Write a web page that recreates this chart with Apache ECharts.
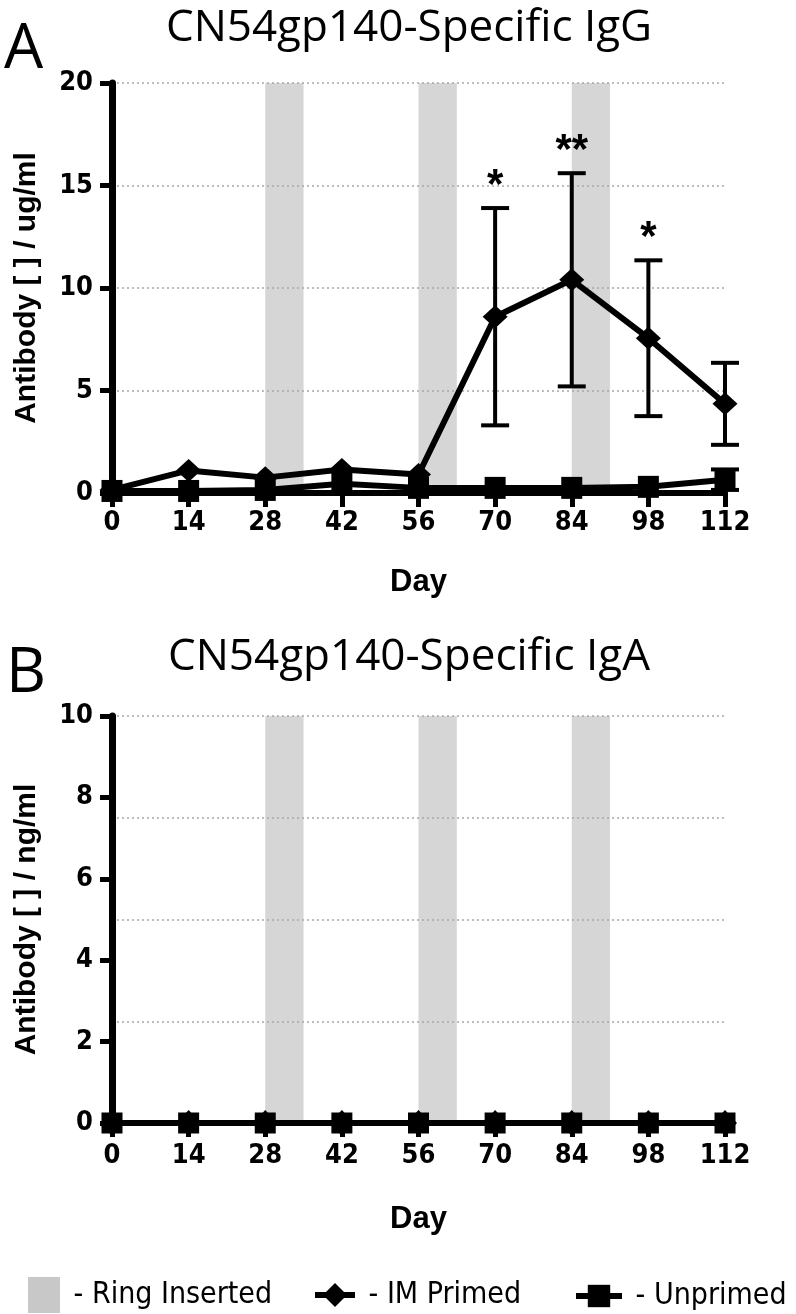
<!DOCTYPE html>
<html><head><meta charset="utf-8">
<script src="https://cdn.jsdelivr.net/npm/echarts@6/dist/echarts.min.js"></script>
<style>html,body{margin:0;padding:0;background:#fff}#c{width:796px;height:1314px}</style>
</head><body><div id="c"></div>
<script>
// ---- data ----
const days = [0, 14, 28, 42, 56, 70, 84, 98, 112];
const iggPrimed = [0.15, 1.1, 0.75, 1.15, 0.9, 8.6, 10.4, 7.55, 4.35];
const iggPrimedErr = [0, 0, 0, 0, 0, 5.3, 5.2, 3.8, 2.0];
const iggPrimedSig = ['', '', '', '', '', '*', '**', '*', ''];
const iggUnprimed = [0.1, 0.1, 0.15, 0.45, 0.25, 0.25, 0.25, 0.3, 0.65];
const iggUnprimedErr = [0, 0, 0, 0, 0, 0, 0, 0, 0.5];
const igaPrimed = [0, 0, 0, 0, 0, 0, 0, 0, 0];
const igaUnprimed = [0, 0, 0, 0, 0, 0, 0, 0, 0];
const ringStart = [28, 56, 84];
const ringEnd = [35, 63, 91];
const titles = ['CN54gp140-Specific IgG', 'CN54gp140-Specific IgA'];
const panelLetters = ['A', 'B'];
const yNames = ['Antibody [ ] / ug/ml', 'Antibody [ ] / ng/ml'];
const yMax = [20, 10];
const yTickStep = [5, 2];
const yGridStep = [5, 2.5];
const legendNames = ['Ring Inserted', 'IM Primed', 'Unprimed'];

// ---- styling helpers ----
const BOLD = '"Liberation Sans", Arial, Helvetica, sans-serif';
const TICKF = '"DejaVu Sans Condensed", "Liberation Sans", sans-serif';
const NARROW = '"DejaVu Sans Condensed", "Liberation Sans", sans-serif';
const TITLEF = '"Open Sans", "Noto Sans", sans-serif';

function bandRender(top) {
  return function (params, api) {
    const p0 = api.coord([api.value(0), top]);
    const p1 = api.coord([api.value(1), 0]);
    return { type: 'rect', shape: { x: p0[0], y: p0[1], width: p1[0] - p0[0], height: p1[1] - p0[1] },
      style: { fill: '#d6d6d6' } };
  };
}
function errRender(sigs) {
  return function (params, api) {
    const i = params.dataIndex;
    const x = api.value(0), v = api.value(1), e = api.value(2);
    if (!e) return null;
    const t = api.coord([x, v + e]);
    const b = api.coord([x, Math.max(0, v - e)]);
    const hw = 14;
    const st = { stroke: '#000', lineWidth: 4 };
    const ch = [
      { type: 'line', shape: { x1: t[0], y1: t[1], x2: b[0], y2: b[1] }, style: st },
      { type: 'line', shape: { x1: t[0] - hw, y1: t[1], x2: t[0] + hw, y2: t[1] }, style: st },
      { type: 'line', shape: { x1: b[0] - hw, y1: b[1], x2: b[0] + hw, y2: b[1] }, style: st }
    ];
    if (sigs && sigs[i]) {
      ch.push({ type: 'text', style: { text: sigs[i], x: t[0], y: t[1] - 22, align: 'center', verticalAlign: 'middle',
        font: 'bold 42px ' + BOLD, fill: '#000' } });
    }
    return { type: 'group', children: ch };
  };
}

const gridsPos = [
  { left: 112, top: 83, width: 613, height: 410 },
  { left: 112, top: 716, width: 613, height: 407 }
];
const xNameGap = [74, 81];
const xLabelMargin = [16, 19];

const xAxes = [], yAxes = [];
[0, 1].forEach(function (g) {
  xAxes.push({
    type: 'value', gridIndex: g, min: 0, max: 112, interval: 14, z: 1.6,
    axisLine: { onZero: false, lineStyle: { color: '#000', width: 6 } },
    axisTick: { length: 14, lineStyle: { color: '#000', width: 5 } },
    axisLabel: { fontSize: 27, fontWeight: 'bold', color: '#000', fontFamily: TICKF, margin: xLabelMargin[g] },
    splitLine: { show: false },
    name: 'Day', nameLocation: 'middle', nameGap: xNameGap[g],
    nameTextStyle: { fontSize: 31, fontWeight: 'bold', color: '#000', fontFamily: BOLD }
  });
  yAxes.push({
    type: 'value', gridIndex: g, min: 0, max: yMax[g], interval: yTickStep[g], z: 1.6,
    axisLine: { show: true, onZero: false, lineStyle: { color: '#000', width: 7 } },
    axisTick: { show: true, length: 12, lineStyle: { color: '#000', width: 5 } },
    axisLabel: { fontSize: 27, fontWeight: 'bold', color: '#000', fontFamily: TICKF, margin: 19 },
    splitLine: { show: false },
    name: yNames[g], nameLocation: 'middle', nameRotate: 90, nameGap: 70,
    nameTextStyle: { fontSize: 30, fontWeight: 'bold', color: '#000', fontFamily: BOLD }
  });
});
// gridline-only axes
[0, 1].forEach(function (g) {
  yAxes.push({
    type: 'value', gridIndex: g, min: 0, max: yMax[g], interval: yGridStep[g], position: 'left', z: 1.5,
    axisLine: { show: false }, axisTick: { show: false }, axisLabel: { show: false },
    splitLine: { show: true, lineStyle: { color: '#a8a8a8', width: 1.5, type: [2, 3] } }
  });
});

const bandData = ringStart.map(function (s, i) { return [s, ringEnd[i]]; });
function mk(arr, err) { return days.map(function (d, i) { return [d, arr[i], err ? err[i] : 0]; }); }

const series = [];
[0, 1].forEach(function (g) {
  series.push({ type: 'custom', name: legendNames[0], xAxisIndex: g, yAxisIndex: g, z: 1,
    itemStyle: { color: '#c8c8c8' }, renderItem: bandRender(yMax[g]), data: bandData, encode: { x: [0, 1] }, silent: true });
});
const lineBase = function (name, g, data, sym, size, z) {
  return { type: 'line', name: name, xAxisIndex: g, yAxisIndex: g, z: z, data: data,
    symbol: sym, symbolSize: size, showSymbol: true, showAllSymbol: true,
    lineStyle: { color: '#000', width: 6 }, itemStyle: { color: '#000' }, emphasis: { disabled: true } };
};
series.push(lineBase(legendNames[1], 0, days.map(function (d, i) { return [d, iggPrimed[i]]; }), 'diamond', [25, 23], 3));
series.push(lineBase(legendNames[2], 0, days.map(function (d, i) { return [d, iggUnprimed[i]]; }), 'rect', [21, 22], 4));
series.push(lineBase(legendNames[1], 1, days.map(function (d, i) { return [d, igaPrimed[i]]; }), 'diamond', [24, 26], 3));
series.push(lineBase(legendNames[2], 1, days.map(function (d, i) { return [d, igaUnprimed[i]]; }), 'rect', [21, 21], 4));
series.push({ type: 'custom', name: 'IM err', xAxisIndex: 0, yAxisIndex: 0, z: 2.5, renderItem: errRender(iggPrimedSig),
  data: mk(iggPrimed, iggPrimedErr), encode: { x: 0, y: 1 }, silent: true });
series.push({ type: 'custom', name: 'Un err', xAxisIndex: 0, yAxisIndex: 0, z: 2.5, renderItem: errRender(null),
  data: mk(iggUnprimed, iggUnprimedErr), encode: { x: 0, y: 1 }, silent: true });

const legText = { fontSize: 30, color: '#000', fontFamily: NARROW };
const legLine = { width: 6, color: '#000' };
const option = {
  animation: false,
  backgroundColor: '#fff',
  grid: gridsPos,
  xAxis: xAxes,
  yAxis: yAxes,
  legend: [
    { data: [legendNames[0]], left: 28, top: 1277, padding: 0, icon: 'rect', itemWidth: 32, itemHeight: 36,
      formatter: ' - {name}', textStyle: legText, selectedMode: false },
    { data: [legendNames[1]], left: 312, top: 1280, padding: 0, itemWidth: 40, itemHeight: 30, lineStyle: legLine,
      formatter: ' - {name}', textStyle: legText, selectedMode: false },
    { data: [legendNames[2]], left: 573, top: 1281, padding: 0, itemWidth: 46, itemHeight: 28, lineStyle: legLine,
      formatter: ' - {name}', textStyle: legText, selectedMode: false }
  ],
  graphic: [
    { type: 'text', x: 409, y: 28, style: { text: titles[0], font: '44px ' + TITLEF, fill: '#000', align: 'center', verticalAlign: 'middle' } },
    { type: 'text', x: 409, y: 657, style: { text: titles[1], font: '44px ' + TITLEF, fill: '#000', align: 'center', verticalAlign: 'middle' } },
    { type: 'text', x: 4, y: 50, style: { text: panelLetters[0], font: '62px ' + TITLEF, fill: '#000', align: 'left', verticalAlign: 'middle' } },
    { type: 'text', x: 6, y: 674, style: { text: panelLetters[1], font: '62px ' + TITLEF, fill: '#000', align: 'left', verticalAlign: 'middle' } }
  ],
  series: series
};
const chart = echarts.init(document.getElementById('c'), null, { renderer: 'canvas' });
chart.setOption(option);
</script>
</body></html>
